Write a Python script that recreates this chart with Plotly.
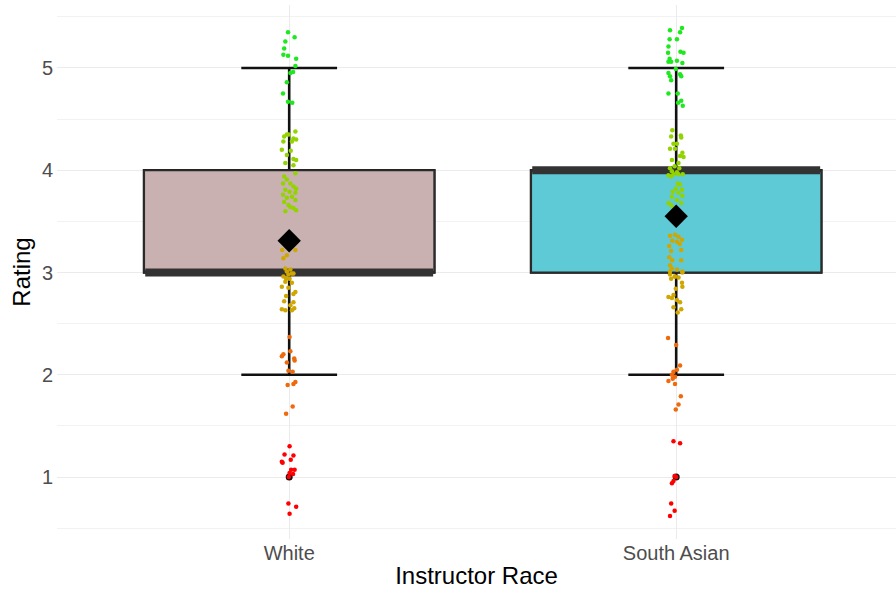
import plotly.graph_objects as go

# ---------------- data ----------------
categories = ["White", "South Asian"]
cat_pos = [1, 2]

# box statistics
q1 = [3, 3]
median = [3, 4]
q3 = [4, 4]
lower_whisker = [2, 2]
upper_whisker = [5, 5]
outliers = [1, 1]
means = [3.31, 3.55]

# jittered individual ratings: horizontal jitter (category units) and jittered rating value
white_dx = [
    -0.003, 0.014, -0.010, -0.013, -0.015, -0.003, 0.018, 0.016, 0.010, 0.003, -0.006, -0.016, -0.003, 0.008,
    0.016, -0.006, -0.013, -0.001, 0.011, 0.018, -0.015, 0.007, -0.019, 0.004, -0.006, 0.011, 0.018, -0.010,
    0.011, 0.016, -0.013, -0.006, -0.016, 0.003, 0.011, 0.018, -0.010, 0.001, 0.016, -0.016, 0.007, -0.006,
    -0.013, 0.016, -0.002, 0.011, 0.018, -0.010, 0.003,
    -0.018, 0.016, -0.015, -0.006, -0.010, 0.003, -0.002, -0.008, 0.011, -0.006, 0.007, -0.015, 0.001, -0.010,
    0.007, -0.019, -0.002, 0.016, 0.011, -0.008, -0.013, 0.011, 0.003, -0.019, -0.010, 0.007, 0.013,
    0.001, -0.015, -0.019, 0.003, 0.013, 0.014, -0.006, -0.002, 0.009, -0.004, 0.011, 0.016, 0.009, -0.008,
    0.001, -0.012, 0.011, 0.004, -0.019, -0.017, 0.005, 0.014, 0.001, 0.010, -0.001, -0.002, 0.018, 0.001,
]
white_y = [
    5.35, 5.30, 5.26, 5.19, 5.13, 5.12, 5.09, 5.02, 4.96, 4.95, 4.86, 4.75, 4.67, 4.66,
    4.38, 4.35, 4.33, 4.35, 4.31, 4.30, 4.28, 4.28, 4.20, 4.19, 4.15, 4.11, 4.10, 4.07,
    4.05, 3.97, 3.94, 3.91, 3.87, 3.87, 3.84, 3.82, 3.81, 3.79, 3.78, 3.76, 3.74, 3.73,
    3.69, 3.71, 3.66, 3.63, 3.61, 3.60, 3.64,
    3.22, 3.22, 3.14, 3.17, 3.04, 3.03, 2.98, 2.94, 2.99, 3.01, 2.99, 2.96, 2.94, 2.91,
    2.90, 2.86, 2.85, 2.81, 2.79, 2.77, 2.72, 2.71, 2.68, 2.64, 2.63, 2.63, 2.65,
    2.37, 2.20, 2.18, 2.23, 2.16, 2.14, 2.12, 2.04, 2.03, 1.90, 1.91, 1.93, 1.69, 1.62,
    1.30, 1.22, 1.21, 1.17, 1.15, 1.14, 1.07, 1.07, 1.04, 1.03, 1.00, 0.74, 0.71, 0.64,
]

south_asian_dx = [
    0.015, -0.016, 0.010, 0.002, -0.017, -0.020, 0.011, 0.019, -0.021, -0.017, -0.020, -0.013, 0.002, 0.016,
    -0.001, -0.020, 0.010, 0.013, -0.016, -0.013, -0.020, 0.004, 0.013, 0.005, 0.017,
    -0.010, -0.013, 0.012, 0.013, 0.002, -0.007, -0.016, -0.003, 0.016, 0.010, 0.019, -0.011, 0.006, -0.004,
    -0.016, 0.008, -0.011, 0.002, -0.020, -0.007, 0.006, 0.017, -0.013, 0.004, 0.010, -0.001, 0.015, -0.009,
    0.006, -0.011, 0.016, 0.002, -0.020, -0.013, 0.013, -0.007,
    -0.016, -0.003, 0.006, -0.010, 0.015, 0.002, 0.009, -0.018, -0.013, 0.013, -0.018, -0.010, -0.016, 0.013,
    -0.011, 0.002, 0.016, -0.016, -0.004, 0.006, -0.016, 0.016, -0.013, -0.003, 0.015, 0.016, -0.001, -0.020,
    -0.011, 0.002, 0.010, -0.007, 0.013, 0.004, -0.007,
    -0.021, 0.000, 0.010, 0.002, -0.007, -0.011, -0.003, -0.020, -0.009, -0.003, 0.012, 0.006, -0.001,
    -0.007, 0.010, -0.004, 0.000, -0.007, -0.011, -0.013, -0.004, -0.016,
]
south_asian_y = [
    5.39, 5.37, 5.35, 5.28, 5.28, 5.21, 5.16, 5.15, 5.15, 5.09, 5.06, 5.06, 5.07, 5.05,
    4.99, 4.95, 4.94, 4.92, 4.92, 4.88, 4.75, 4.75, 4.68, 4.66, 4.63,
    4.39, 4.33, 4.34, 4.32, 4.26, 4.26, 4.21, 4.21, 4.17, 4.14, 4.13, 4.10, 4.07, 4.04,
    4.02, 4.02, 3.99, 3.98, 3.95, 3.96, 3.96, 3.96, 3.94, 3.87, 3.86, 3.82, 3.81, 3.79,
    3.78, 3.74, 3.75, 3.71, 3.68, 3.66, 3.68, 3.63,
    3.36, 3.37, 3.35, 3.31, 3.32, 3.30, 3.28, 3.26, 3.21, 3.22, 3.15, 3.12, 3.07, 3.12,
    3.04, 3.03, 3.01, 2.98, 2.96, 2.95, 3.01, 3.00, 2.94, 2.96, 2.90, 2.86, 2.84, 2.76,
    2.75, 2.73, 2.71, 2.66, 2.64, 2.61, 2.78,
    2.36, 2.29, 2.09, 2.05, 2.03, 2.00, 1.98, 1.94, 1.96, 1.91, 1.79, 1.71, 1.66,
    1.35, 1.33, 1.01, 1.00, 0.96, 0.94, 0.74, 0.67, 0.62,
]

# ---------------- styles ----------------
box_fills = ["#C9B1B1", "#5ECAD5"]
rating_colors = {1: "#FF0000", 2: "#EF6A0C", 3: "#D0A600", 4: "#93D300", 5: "#1EE81E"}
FONT = "Liberation Sans, Arial, Helvetica, sans-serif"
BOX_W = 0.75

fig = go.Figure()

for i in range(2):
    # whiskers + caps (black)
    fig.add_trace(go.Box(
        x=[cat_pos[i]], q1=[q1[i]], median=[median[i]], q3=[q3[i]],
        lowerfence=[lower_whisker[i]], upperfence=[upper_whisker[i]],
        width=BOX_W, whiskerwidth=0.33, fillcolor="rgba(0,0,0,0)",
        line=dict(color="#111111", width=2.6), boxpoints=False,
        showlegend=False, hoverinfo="skip",
    ))
    # box body
    fig.add_trace(go.Box(
        x=[cat_pos[i]], q1=[q1[i]], median=[median[i]], q3=[q3[i]],
        lowerfence=[q1[i]], upperfence=[q3[i]],
        width=BOX_W, whiskerwidth=0, fillcolor=box_fills[i],
        line=dict(color="#2b2b2b", width=2), boxpoints=False,
        showlegend=False, hoverinfo="skip",
    ))
    # thick median band
    fig.add_trace(go.Scatter(
        x=[cat_pos[i] - BOX_W / 2 + 0.003, cat_pos[i] + BOX_W / 2 - 0.003],
        y=[median[i], median[i]], mode="lines",
        line=dict(color="#333333", width=8), showlegend=False, hoverinfo="skip",
    ))

# outliers
fig.add_trace(go.Scatter(
    x=cat_pos, y=outliers, mode="markers",
    marker=dict(color="#111111", size=7), showlegend=False,
))

# jittered points
for pos, dxs, ys in [(1, white_dx, white_y), (2, south_asian_dx, south_asian_y)]:
    fig.add_trace(go.Scatter(
        x=[pos + d for d in dxs], y=ys, mode="markers",
        marker=dict(color=[rating_colors[int(round(v))] for v in ys], size=4.5),
        showlegend=False,
    ))

# means
fig.add_trace(go.Scatter(
    x=cat_pos, y=means, mode="markers",
    marker=dict(symbol="diamond", color="black", size=18),
    showlegend=False,
))

fig.update_layout(
    width=896, height=592,
    margin=dict(l=57, r=0, t=5, b=53),
    paper_bgcolor="white", plot_bgcolor="white",
    boxmode="overlay",
    font=dict(family=FONT),
    xaxis=dict(
        range=[0.4, 2.568], tickmode="array", tickvals=cat_pos, ticktext=categories,
        showgrid=True, gridcolor="#EBEBEB", gridwidth=1, zeroline=False, showline=False,
        automargin=False,
        tickfont=dict(size=20, color="#4D4D4D"),
        title=dict(text="Instructor Race", font=dict(size=24, color="black"), standoff=4),
    ),
    yaxis=dict(
        range=[0.394, 5.616], tickmode="array", tickvals=[1, 2, 3, 4, 5],
        showgrid=True, gridcolor="#EBEBEB", gridwidth=1, zeroline=False, showline=False,
        automargin=False, ticklabelstandoff=3,
        tickfont=dict(size=20, color="#4D4D4D"),
        minor=dict(tickmode="array", tickvals=[0.5, 1.5, 2.5, 3.5, 4.5, 5.5],
                   showgrid=True, gridcolor="#F2F2F2", gridwidth=1),
        title=dict(text="Rating", font=dict(size=24, color="black"), standoff=4),
    ),
)

fig.write_html(
    "out.html",
    config={"displayModeBar": False},
    post_script="document.body.style.margin='0px';document.body.style.padding='0px';",
)
